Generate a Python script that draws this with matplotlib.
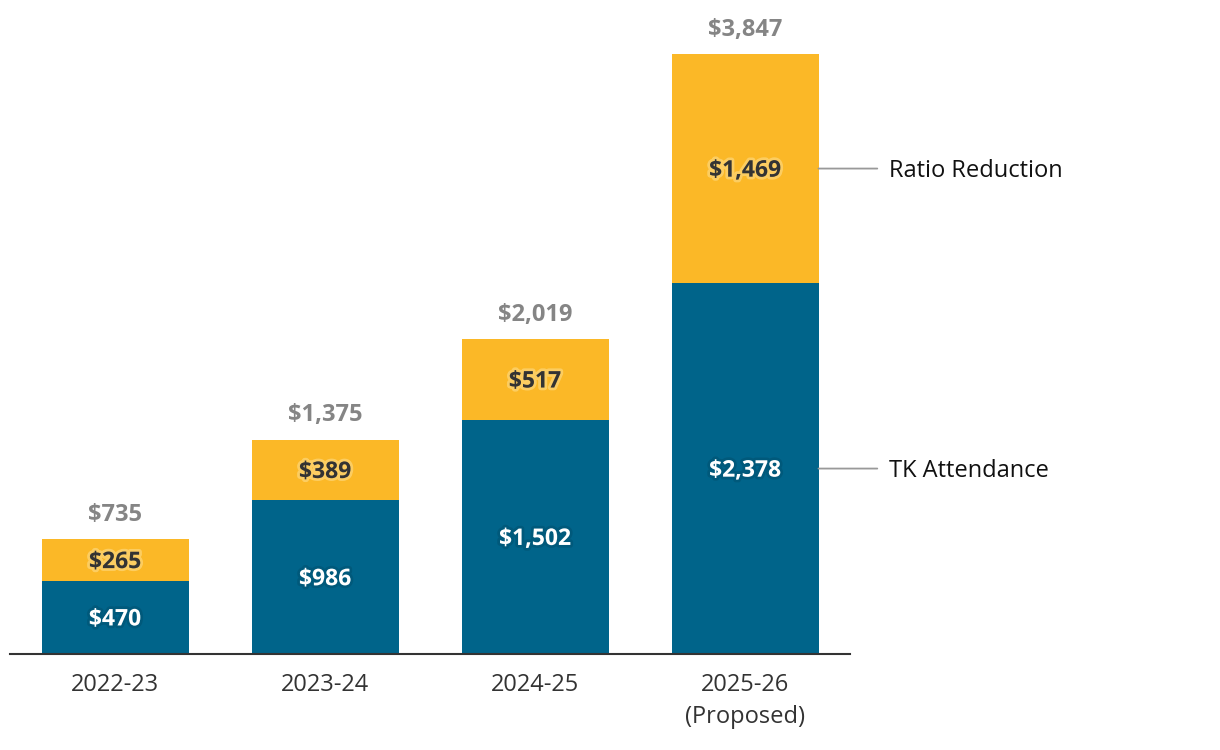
import matplotlib.pyplot as plt
import matplotlib.patheffects as pe
import numpy as np

# Data
years = ['2022-23', '2023-24', '2024-25', '2025-26\n(Proposed)']
tk_attendance = [470, 986, 1502, 2378]
ratio_reduction = [265, 389, 517, 1469]
totals = [735, 1375, 2019, 3847]
series_names = ['TK Attendance', 'Ratio Reduction']

blue = '#00648a'
yellow = '#fbb827'

plt.rcParams['font.family'] = ['Open Sans', 'DejaVu Sans']

fig = plt.figure(figsize=(12.2, 7.5), dpi=100)
ax = fig.add_axes([10 / 1220, 96 / 750, 840 / 1220, 644 / 750])

x = np.arange(len(years))
ax.bar(x, tk_attendance, width=0.7, color=blue)
ax.bar(x, ratio_reduction, width=0.7, bottom=tk_attendance, color=yellow)

ax.set_xlim(-0.5, 3.5)
ax.set_ylim(0, 3847 * 644 / 600)

dark_glow = [pe.withStroke(linewidth=4, foreground='#002a3a', alpha=0.18)]
light_glow = [pe.withStroke(linewidth=4, foreground='#fff6d0', alpha=0.35)]

for i in x:
    ax.annotate(f'${tk_attendance[i]:,}', (i, tk_attendance[i] / 2), xytext=(0, -1.5),
                textcoords='offset points', ha='center', va='center',
                color='white', fontsize=16.5, fontweight='bold', path_effects=dark_glow)
    ax.annotate(f'${ratio_reduction[i]:,}', (i, tk_attendance[i] + ratio_reduction[i] / 2),
                xytext=(0, -1.5), textcoords='offset points',
                ha='center', va='center', color='#333333', fontsize=16.5, fontweight='bold',
                path_effects=light_glow)
    ax.annotate(f'${totals[i]:,}', (i, totals[i]), xytext=(0, 17.5), textcoords='offset points',
                ha='center', va='center', color='#858585', fontsize=17, fontweight='bold')

# Series labels to the right of the last bar
last = len(years) - 1
label_y = [tk_attendance[last] / 2, tk_attendance[last] + ratio_reduction[last] / 2]
for name, yv in zip(series_names, label_y):
    ax.annotate('', xy=(last + 0.35, yv), xytext=(last + 0.63, yv), annotation_clip=False,
                arrowprops=dict(arrowstyle='-', color='#999999', lw=1.3, shrinkA=0, shrinkB=0))
    ax.annotate(name, (last + 0.685, yv), xytext=(0, -1.5), textcoords='offset points',
                ha='left', va='center', fontsize=17, color='#111111', annotation_clip=False)

ax.set_xticks(x)
ax.set_xticklabels(years, fontsize=17, color='#333333', linespacing=1.42)
ax.tick_params(axis='x', length=0, pad=14)
ax.set_yticks([])
for side in ['top', 'right', 'left']:
    ax.spines[side].set_visible(False)
ax.spines['bottom'].set_color('#333333')
ax.spines['bottom'].set_linewidth(1.5)

fig.savefig('out.png', dpi=100)
